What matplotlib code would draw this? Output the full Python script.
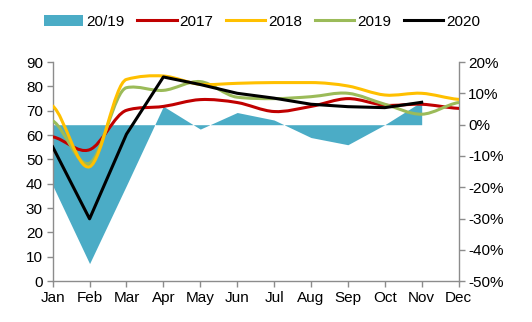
import numpy as np
import matplotlib
matplotlib.use("Agg")
import matplotlib.pyplot as plt
from matplotlib.path import Path
from matplotlib.patches import PathPatch, Patch
from matplotlib.lines import Line2D
from matplotlib.ticker import FuncFormatter

plt.rcParams['font.family'] = ['Liberation Sans', 'DejaVu Sans']

# Donnees
mois = ["Jan", "Feb", "Mar", "Apr", "May", "Jun", "Jul", "Aug", "Sep", "Oct", "Nov", "Dec"]
v2017 = [59.3, 54.0, 70.2, 71.8, 74.6, 73.4, 69.7, 71.8, 75.0, 72.3, 72.7, 71.0]
v2018 = [72.0, 47.0, 82.9, 84.3, 80.9, 81.3, 81.6, 81.6, 80.2, 76.5, 77.2, 74.7]
v2019 = [65.9, 48.5, 79.5, 78.4, 82.0, 75.6, 75.0, 75.8, 77.2, 72.7, 68.6, 73.4]
v2020 = [55.2, 25.6, 60.4, 83.9, 80.8, 77.2, 75.2, 72.7, 71.7, 71.3, 73.5]
var_20_19 = [-19.4, -44.4, -19.4, 5.9, -1.4, 3.9, 1.5, -4.1, -6.4, 0.0, 7.4]  # en %

c_area = "#4BACC6"
c_2017 = "#C00000"
c_2018 = "#FFC000"
c_2019 = "#9BBB59"
c_2020 = "#000000"
gris = "#8C8C8C"


# Courbe lissee (Bezier), tangentes limitees pour eviter les depassements
def courbe_lisse(ax, y, color, lw=2.2):
    y = np.asarray(y, dtype=float)
    n = len(y)
    t = np.zeros(n)
    for i in range(n):
        a = y[i - 1] if i > 0 else y[i]
        b = y[i + 1] if i < n - 1 else y[i]
        t[i] = (b - a) / 2.0
        lim = []
        if i > 0:
            lim.append(abs(y[i] - y[i - 1]))
        if i < n - 1:
            lim.append(abs(y[i + 1] - y[i]))
        m = min(lim)
        if abs(t[i]) / 3.0 > m:
            t[i] = np.sign(t[i]) * 3.0 * m
    verts = [(0, y[0])]
    codes = [Path.MOVETO]
    for i in range(n - 1):
        verts += [(i + 1 / 3, y[i] + t[i] / 3), (i + 2 / 3, y[i + 1] - t[i + 1] / 3), (i + 1, y[i + 1])]
        codes += [Path.CURVE4] * 3
    ax.add_patch(PathPatch(Path(verts, codes), fill=False, edgecolor=color,
                           lw=lw, capstyle='round', joinstyle='round', zorder=3))


fig = plt.figure(figsize=(5.32, 3.22), dpi=100)
ax = fig.add_axes([0.099, 0.127, 0.763, 0.68])
ax2 = ax.twinx()

# Aire 20/19 sur l'axe de droite
x_area = np.arange(len(var_20_19))
ax2.fill_between(x_area, 0, var_20_19, color=c_area, lw=0)
ax2.set_ylim(-50, 20)
ax2.set_yticks(np.arange(-50, 21, 10))
ax2.yaxis.set_major_formatter(FuncFormatter(lambda v, p: "%d%%" % v))

# Courbes sur l'axe de gauche
ax.set_zorder(ax2.get_zorder() + 1)
ax.patch.set_visible(False)
courbe_lisse(ax, v2017, c_2017)
courbe_lisse(ax, v2019, c_2019)
courbe_lisse(ax, v2018, c_2018)
ax.plot(np.arange(len(v2020)), v2020, color=c_2020, lw=2.2, zorder=4)

ax.set_xlim(0, 11)
ax.set_ylim(0, 90)
ax.set_yticks(np.arange(0, 91, 10))
ax.set_xticks(np.arange(12))
ax.set_xticklabels(mois)

for a in (ax, ax2):
    a.spines['top'].set_visible(False)
    for s in ('left', 'right', 'bottom'):
        a.spines[s].set_color(gris)
        a.spines[s].set_linewidth(1.0)
    a.tick_params(colors=gris, labelcolor='black', labelsize=11, length=4, width=1.0, pad=3)
ax.spines['right'].set_visible(False)
ax2.spines['left'].set_visible(False)
ax2.spines['bottom'].set_visible(False)

# Legende en haut
handles = [Patch(facecolor=c_area, edgecolor='none'),
           Line2D([], [], color=c_2017, lw=2.2),
           Line2D([], [], color=c_2018, lw=2.2),
           Line2D([], [], color=c_2019, lw=2.2),
           Line2D([], [], color=c_2020, lw=2.2)]
labels = ["20/19", "2017", "2018", "2019", "2020"]
fig.legend(handles, labels, loc='center', bbox_to_anchor=(0.4925, 0.932), ncol=5,
           frameon=False, fontsize=11, handlelength=2.6, handleheight=0.75,
           handletextpad=0.2, columnspacing=0.8, borderpad=0.2)

fig.savefig("out.png", dpi=100)
